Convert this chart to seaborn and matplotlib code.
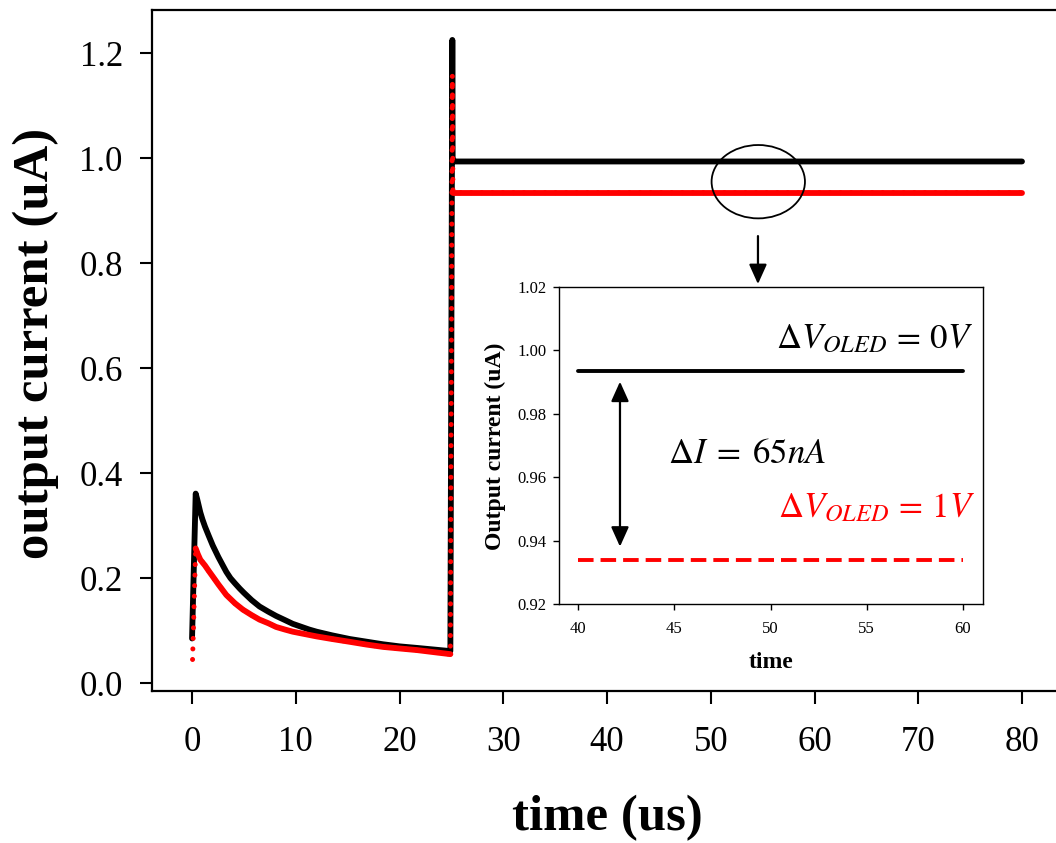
import numpy as np
import pandas as pd
import matplotlib
matplotlib.use("Agg")
import matplotlib.pyplot as plt
import seaborn as sns
from matplotlib.patches import Ellipse

# ---- data ----
black_t = [0.0, 0.35, 0.5, 0.8, 1.0, 1.25, 1.6, 2.0, 2.54, 3.0, 3.3, 3.7, 4.14, 4.6, 5.0,
           5.75, 6.5, 7.36, 8.1, 8.96, 9.7, 10.57, 11.3, 12.0, 13.5, 15.2, 16.8, 18.4,
           20.0, 21.7, 23.3, 24.9, 25.09, 25.12, 25.3, 40.0, 60.0, 80.0]
black_i = [0.085, 0.361, 0.350, 0.325, 0.312, 0.298, 0.281, 0.262, 0.240, 0.223, 0.212,
           0.200, 0.190, 0.180, 0.172, 0.158, 0.146, 0.136, 0.128, 0.120, 0.113, 0.107,
           0.102, 0.098, 0.091, 0.084, 0.079, 0.074, 0.070, 0.067, 0.064, 0.061,
           1.225, 1.00, 0.9935, 0.9935, 0.9935, 0.9935]

red_t = [0.05, 0.35, 0.55, 0.8, 1.25, 1.6, 2.0, 2.54, 3.3, 4.14, 4.9, 5.75, 6.5, 7.36, 8.1,
         8.96, 9.7, 10.57, 12.0, 13.5, 15.2, 16.8, 18.4, 20.0, 21.7, 23.3, 24.9,
         25.09, 25.15, 25.3, 40.0, 60.0, 80.0]
red_i = [0.045, 0.2565, 0.246, 0.235, 0.224, 0.214, 0.203, 0.188, 0.168, 0.152, 0.140,
         0.1295, 0.121, 0.114, 0.107, 0.102, 0.098, 0.0946, 0.089, 0.084, 0.0787, 0.0735,
         0.069, 0.066, 0.0629, 0.059, 0.0552, 1.158, 0.934, 0.934, 0.934, 0.934, 0.934]

main_xticks = [0, 10, 20, 30, 40, 50, 60, 70, 80]
main_yticks = [0.0, 0.2, 0.4, 0.6, 0.8, 1.0, 1.2]
inset_xticks = [40, 45, 50, 55, 60]
inset_yticks = [0.92, 0.94, 0.96, 0.98, 1.00, 1.02]

black = pd.DataFrame({"t": black_t, "i": black_i})
red = pd.DataFrame({"t": red_t, "i": red_i})

sns.set_theme(style="ticks")
plt.rcParams["font.family"] = ["Liberation Serif", "DejaVu Serif"]
plt.rcParams["mathtext.fontset"] = "stix"
plt.rcParams["text.color"] = "black"
plt.rcParams["axes.labelcolor"] = "black"

fig = plt.figure(figsize=(10.56, 8.43), dpi=100)
ax = fig.add_axes([152 / 1056, 1 - 691 / 843, 1.012 - 152 / 1056, 681 / 843])

line_kw = dict(sort=False, estimator=None, solid_capstyle="round", solid_joinstyle="round")
sns.lineplot(data=black, x="t", y="i", ax=ax, color="black", lw=4.2, zorder=3, **line_kw)
# red: dotted over whole path (shows on the vertical steps), solid on decay and plateau
sns.lineplot(data=red, x="t", y="i", ax=ax, color="red", lw=3.6,
             sort=False, estimator=None, linestyle=(0, (0.01, 2.1)),
             dash_capstyle="round", zorder=4)
red_decay = red[(red.t >= 0.35) & (red.t <= 24.9)]
red_flat = red[red.t >= 25.15]
sns.lineplot(data=red_decay, x="t", y="i", ax=ax, color="red", lw=4.2, zorder=4, **line_kw)
sns.lineplot(data=red_flat, x="t", y="i", ax=ax, color="red", lw=4.2, zorder=4, **line_kw)

ax.set_xlim(-3.86, 84.5)
ax.set_ylim(-0.015, 1.282)
ax.set_xticks(main_xticks)
ax.set_xticklabels([str(v) for v in main_xticks])
ax.set_yticks(main_yticks)
ax.set_yticklabels([f"{v:.1f}" for v in main_yticks])
ax.tick_params(axis="both", direction="out", length=9, width=1.5, colors="black",
               labelsize=25)
ax.tick_params(axis="x", pad=16)
ax.tick_params(axis="y", pad=12)
for s in ["left", "bottom", "top"]:
    ax.spines[s].set_color("black")
    ax.spines[s].set_linewidth(1.6)
ax.spines["right"].set_visible(False)

ax.set_xlabel("time (us)", fontsize=36.5, fontweight="bold", color="black")
ax.set_ylabel("output current (uA)", fontsize=36.5, fontweight="bold", color="black")
ax.xaxis.set_label_coords(0.497, -0.1865)
ax.xaxis.label.set_va("center")
ax.yaxis.set_label_coords(-0.1266, 0.510)
ax.yaxis.label.set_va("center")

# ellipse and arrow
ax.add_patch(Ellipse((54.58, 0.955), 9.0, 0.1397, fill=False, ec="black", lw=1.3, zorder=5))
ax.annotate("", xy=(54.55, 0.760), xytext=(54.55, 0.8514),
            arrowprops=dict(arrowstyle="-|>,head_length=1.0,head_width=0.45",
                            color="black", lw=1.6, shrinkA=0, shrinkB=0))

# ---- inset ----
ax2 = fig.add_axes([559 / 1056, 1 - 604 / 843, 424 / 1056, 317 / 843])
ax2.set_facecolor("white")
b_in = black[(black.t >= 40) & (black.t <= 60)]
r_in = red[(red.t >= 40) & (red.t <= 60)]
sns.lineplot(data=b_in, x="t", y="i", ax=ax2, color="black", lw=2.8,
             sort=False, estimator=None)
sns.lineplot(data=r_in, x="t", y="i", ax=ax2, color="red", lw=2.8,
             sort=False, estimator=None, dashes=False, linestyle=(0, (4.0, 1.8)))
ax2.set_xlim(39.0, 61.04)
ax2.set_ylim(0.92, 1.02)
ax2.set_xticks(inset_xticks)
ax2.set_xticklabels([str(v) for v in inset_xticks])
ax2.set_yticks(inset_yticks)
ax2.set_yticklabels([f"{v:.2f}" for v in inset_yticks])
ax2.tick_params(axis="both", direction="out", length=4, width=1, colors="black",
                labelsize=12)
ax2.tick_params(axis="x", pad=8)
ax2.tick_params(axis="y", pad=5)
for s in ax2.spines.values():
    s.set_color("black")
    s.set_linewidth(1.0)
ax2.set_xlabel("time", fontsize=17, fontweight="bold", color="black")
ax2.set_ylabel("Output current (uA)", fontsize=17, fontweight="bold", color="black")
ax2.xaxis.set_label_coords(0.5, -0.186)
ax2.xaxis.label.set_va("center")
ax2.yaxis.set_label_coords(-0.151, 0.498)
ax2.yaxis.label.set_va("center")

ax2.text(60.5, 1.0008, r"$\Delta V_{OLED}\,=\,0V$", fontsize=25, ha="right",
         va="baseline", color="black")
ax2.text(60.6, 0.9475, r"$\Delta V_{OLED}\,=\,1V$", fontsize=25, ha="right",
         va="baseline", color="red")
ax2.text(44.66, 0.9644, r"$\Delta I\;=\;65nA$", fontsize=25, ha="left",
         va="baseline", color="black")
ax2.annotate("", xy=(42.17, 0.99013), xytext=(42.17, 0.9381),
             arrowprops=dict(arrowstyle="<|-|>,head_length=1.0,head_width=0.45",
                             color="black", lw=1.6, shrinkA=0, shrinkB=0))

fig.savefig("out.png", dpi=100)
